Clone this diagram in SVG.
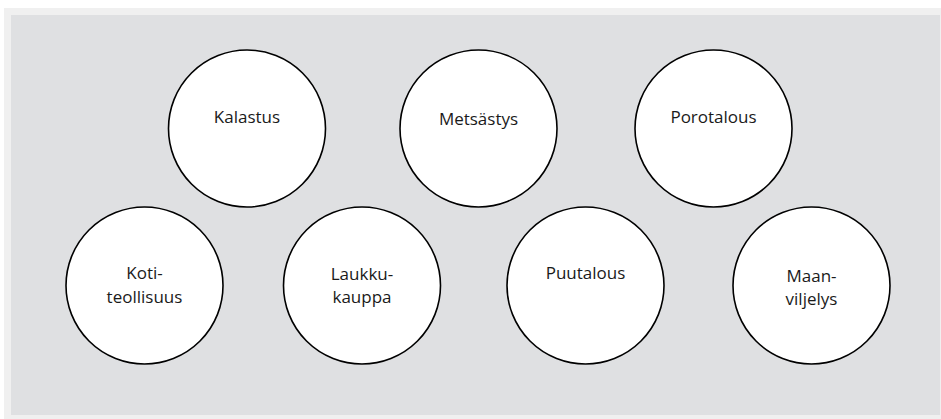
<svg xmlns="http://www.w3.org/2000/svg" width="941" height="419" viewBox="0 0 941 419">
<style>
.n{fill:#ffffff;stroke:#000000;stroke-width:1.6}
.t{font-family:"Open Sans","Liberation Sans",sans-serif;font-size:17px;fill:#1a1a1a;text-anchor:middle}
</style>
<rect x="0" y="0" width="941" height="419" fill="#ffffff"/>
<rect x="4" y="8" width="937" height="411" fill="#f0f0f0"/>
<rect x="11" y="15" width="929" height="400" fill="#dfe0e2"/>
<g id="connectors"></g>
<g id="kalastus"><circle class="n" cx="247" cy="128.5" r="78.5"/><text class="t" x="247" y="123">Kalastus</text></g>
<g id="metsastys"><circle class="n" cx="478.5" cy="128.5" r="78.5"/><text class="t" x="478.5" y="125">Metsästys</text></g>
<g id="porotalous"><circle class="n" cx="713.5" cy="128.5" r="78.5"/><text class="t" x="713.5" y="123">Porotalous</text></g>
<g id="kotiteollisuus"><circle class="n" cx="144.5" cy="285.5" r="78.5"/><text class="t" x="144.5" y="279">Koti-</text><text class="t" x="144.5" y="303">teollisuus</text></g>
<g id="laukkukauppa"><circle class="n" cx="362" cy="285.5" r="78.5"/><text class="t" x="362" y="280">Laukku-</text><text class="t" x="362" y="303">kauppa</text></g>
<g id="puutalous"><circle class="n" cx="585.5" cy="285.5" r="78.5"/><text class="t" x="585.5" y="279">Puutalous</text></g>
<g id="maanviljelys"><circle class="n" cx="811.5" cy="285.5" r="78.5"/><text class="t" x="811.5" y="282">Maan-</text><text class="t" x="811.5" y="305">viljelys</text></g>
</svg>
